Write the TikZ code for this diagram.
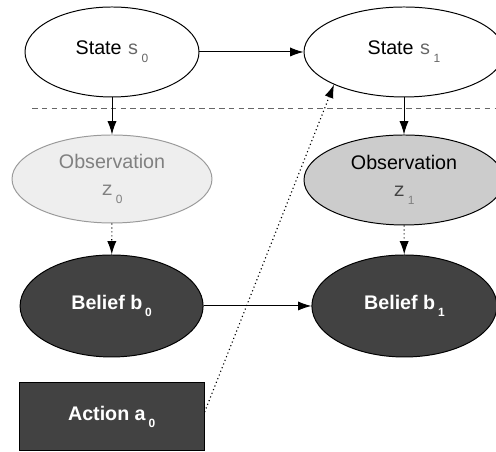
\documentclass[tikz,border=0pt]{standalone}
\usepackage{fontspec}
\setmainfont{Liberation Sans}
\newfontfamily\monofont{Liberation Mono}
\usetikzlibrary{shapes.geometric,arrows.meta}
\definecolor{beliefgray}{HTML}{424242}
\definecolor{obsfaint}{HTML}{EEEEEE}
\definecolor{obsfill}{HTML}{CCCCCC}
\definecolor{faintline}{HTML}{9A9A9A}
\definecolor{faintlabel}{HTML}{808080}
\definecolor{labelgray}{HTML}{666666}
\newcommand{\idx}[1]{\hspace{2pt}\raisebox{-5.5pt}{\rmfamily\fontsize{8.5}{9}\selectfont #1}}

\begin{document}
\begin{tikzpicture}[
    x=1cm, y=1cm,
    >={Latex[length=9.5pt,width=6.5pt]},
    statenode/.style={
      ellipse, draw=black, fill=white, line width=0.7pt,
      minimum width=4.35cm, minimum height=2.25cm, inner sep=0pt,
      font=\fontsize{14}{19}\selectfont, align=center,
    },
    obsnode/.style={
      ellipse, draw=black, fill=obsfill, line width=0.7pt,
      minimum width=5.0cm, minimum height=2.25cm, inner sep=0pt,
      font=\fontsize{14}{19}\selectfont, align=center,
    },
    beliefnode/.style={
      ellipse, draw=black, fill=beliefgray, line width=0.7pt,
      minimum width=4.6cm, minimum height=2.55cm, inner sep=0pt,
      text=white, font=\fontsize{14}{19}\selectfont\bfseries, align=center,
    },
    actionnode/.style={
      rectangle, draw=black, fill=beliefgray, line width=0.7pt,
      minimum width=4.625cm, minimum height=1.7cm, inner sep=0pt,
      text=white, font=\fontsize{14}{19}\selectfont\bfseries, align=center,
    },
    arr/.style={->, draw=black, line width=0.7pt},
    dotarr/.style={->, draw=black, line width=0.8pt, dotted},
    sepline/.style={draw=labelgray, line width=0.7pt, dash pattern=on 4pt off 3pt},
  ]
  \useasboundingbox (0,0) rectangle (12.4,11.3);

  % ---- hidden states (top row) ----
  \node[statenode] (s0) at (2.8, 10.0)
    {State {\color{labelgray}\monofont s\idx{0}}};
  \node[statenode, minimum width=5.0cm] (s1) at (10.1, 10.0)
    {State {\color{labelgray}\monofont s\idx{1}}};
  \draw[arr] (s0) -- (s1);

  % ---- separator ----
  \coordinate (sepL) at (0.8, 8.575);
  \coordinate (sepR) at (12.4, 8.575);
  \draw[sepline] (sepL) -- (sepR);

  % ---- observations ----
  \node[obsnode, fill=obsfaint, draw=faintline, text=faintlabel, minimum height=2.2cm] (z0) at (2.8, 6.825)
    {Observation\\{\monofont z}\idx{0}};
  \node[obsnode] (z1) at (10.1, 6.8)
    {Observation\\{\color{beliefgray}\monofont z}{\color{faintlabel}\idx{1}}};
  \draw[arr] (s0) -- (z0);
  \draw[arr] (s1) -- (z1);

  % ---- beliefs ----
  \node[beliefnode, minimum width=4.575cm] (b0) at (2.79, 3.65) {Belief b\idx{0}};
  \node[beliefnode, minimum width=4.625cm] (b1) at (10.11, 3.65) {Belief b\idx{1}};
  \draw[dotarr] (z0) -- (b0);
  \draw[dotarr] (z1) -- (b1);
  \draw[arr] (b0) -- (b1);

  % ---- action ----
  \node[actionnode] (a0) at (2.79, 0.875) {Action a\idx{0}};
  \draw[dotarr] (a0.3) -- (s1.205);

\end{tikzpicture}
\end{document}
